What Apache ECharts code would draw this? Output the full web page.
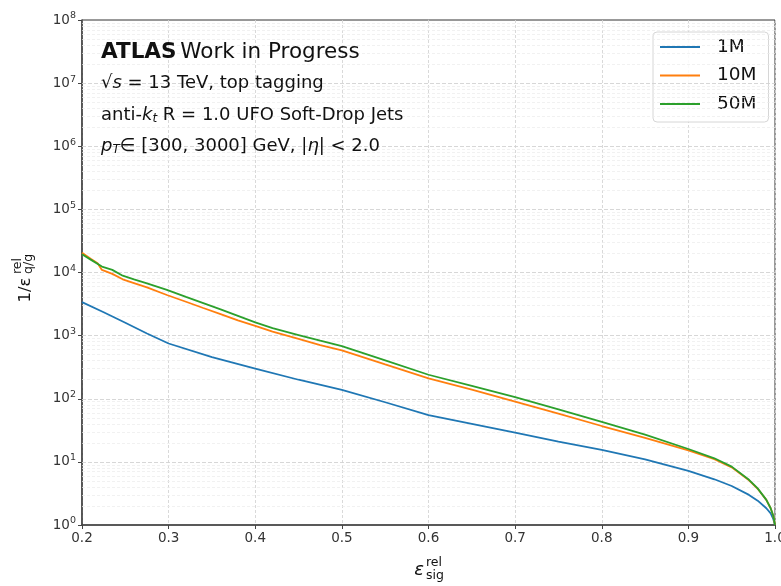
<!DOCTYPE html>
<html>
<head>
<meta charset="utf-8">
<script src="https://cdn.jsdelivr.net/npm/echarts@6/dist/echarts.min.js"></script>
<style>html,body{margin:0;padding:0;background:#fff}#c{width:781px;height:586px}</style>
</head>
<body>
<div id="c"></div>
<script>
// ---- data ----
const seriesNames = ['1M', '10M', '50M'];
const xTicks = [0.2, 0.3, 0.4, 0.5, 0.6, 0.7, 0.8, 0.9, 1.0];
const yDecades = [0, 1, 2, 3, 4, 5, 6, 7, 8];

const x1M = [0.2, 0.225, 0.25, 0.275, 0.3, 0.35, 0.4, 0.45, 0.5, 0.55, 0.6, 0.65, 0.7, 0.75, 0.8, 0.85, 0.9, 0.93, 0.95, 0.97, 0.98, 0.99, 0.995, 0.998, 1.0];
const y1M = [3400, 2350, 1600, 1080, 750, 455, 300, 200, 138, 88, 55, 40, 29, 21, 15.5, 11, 7.2, 5.3, 4.15, 3.0, 2.43, 1.84, 1.53, 1.25, 1.0];

const x10M = [0.2, 0.21, 0.218, 0.223, 0.235, 0.247, 0.26, 0.275, 0.298, 0.32, 0.34, 0.36, 0.38, 0.4, 0.42, 0.45, 0.475, 0.5, 0.55, 0.6, 0.65, 0.7, 0.75, 0.8, 0.85, 0.9, 0.93, 0.95, 0.97, 0.98, 0.99, 0.995, 0.998, 1.0];
const y10M = [20500, 16500, 14000, 11000, 9500, 7800, 6800, 5800, 4400, 3440, 2740, 2190, 1750, 1430, 1160, 890, 710, 585, 350, 211, 140, 90, 58, 37, 24, 15.2, 11.0, 8.2, 5.1, 3.75, 2.5, 1.84, 1.4, 1.0];

const x50M = [0.2, 0.21, 0.223, 0.235, 0.247, 0.26, 0.275, 0.298, 0.32, 0.34, 0.36, 0.38, 0.4, 0.42, 0.45, 0.475, 0.5, 0.55, 0.6, 0.65, 0.7, 0.75, 0.8, 0.85, 0.9, 0.93, 0.95, 0.97, 0.98, 0.99, 0.995, 0.998, 1.0];
const y50M = [19500, 16000, 12400, 11000, 8900, 7800, 6700, 5300, 4110, 3270, 2600, 2060, 1620, 1310, 1020, 830, 680, 405, 240, 160, 106, 68, 43, 27, 16, 11.4, 8.4, 5.2, 3.8, 2.5, 1.84, 1.4, 1.0];

const colors = ['#1f77b4', '#ff7f0e', '#2ca02c'];
const FONT = 'DejaVu Sans';

// ---- build ----
const zip = (xs, ys) => xs.map((x, i) => [x, ys[i]]);
const minorVals = [];
yDecades.slice(0, -1).forEach(d => { for (let m = 2; m <= 9; m++) minorVals.push(m * Math.pow(10, d)); });
const majorVals = yDecades.slice(1, -1).map(d => Math.pow(10, d));

const chart = echarts.init(document.getElementById('c'), null, {renderer: 'canvas'});
const dataSets = [zip(x1M, y1M), zip(x10M, y10M), zip(x50M, y50M)];

const series = dataSets.map((d, i) => ({
  name: seriesNames[i], type: 'line', data: d, showSymbol: false, symbol: 'none',
  lineStyle: {color: colors[i], width: 1.8}, itemStyle: {color: colors[i]}, z: 5 + i, animation: false
}));
series.push({
  type: 'line', data: [], silent: true, animation: false, z: 1,
  markLine: {
    silent: true, symbol: 'none', animation: false, label: {show: false},
    lineStyle: {color: '#ebebeb', type: [3, 2], width: 0.7},
    data: minorVals.map(v => ({yAxis: v}))
  }
});
series.push({
  type: 'line', data: [], silent: true, animation: false, z: 1,
  markLine: {
    silent: true, symbol: 'none', animation: false, label: {show: false},
    lineStyle: {color: '#d2d2d2', type: [4, 2], width: 0.9},
    data: majorVals.map(v => ({yAxis: v}))
  }
});
series.push({
  type: 'line', data: [], silent: true, animation: false, z: 10, clip: false,
  markLine: {
    silent: true, symbol: 'none', animation: false, label: {show: false},
    lineStyle: {color: '#444', type: 'solid', width: 1},
    data: minorVals.map(v => [{coord: [0.2 - 2.3 / 866, v]}, {coord: [0.2, v]}])
  }
});

const option = {
  animation: false,
  backgroundColor: '#fff',
  grid: {left: 82, right: 6, top: 20, bottom: 61, outerBoundsMode: 'none', containLabel: false,
         show: true, borderColor: '#333', borderWidth: 1, backgroundColor: 'transparent'},
  xAxis: {
    type: 'value', min: 0.2, max: 1.0, interval: 0.1,
    axisLine: {lineStyle: {color: '#444', width: 1.6}},
    axisTick: {show: true, length: 4, lineStyle: {color: '#444', width: 1}},
    axisLabel: {color: '#333', fontFamily: FONT, fontSize: 13.5, margin: 6, formatter: v => v.toFixed(1)},
    splitLine: {show: true, lineStyle: {color: '#d5d5d5', type: [3, 2], width: 0.9}}
  },
  yAxis: {
    type: 'log', logBase: 10, min: 1, max: 1e8, interval: 1,
    axisLine: {lineStyle: {color: '#444', width: 1.6}},
    axisTick: {show: true, length: 4, lineStyle: {color: '#444', width: 1}},
    axisLabel: {
      fontFamily: FONT, margin: 6,
      formatter: v => '{b|10}{s|' + Math.round(Math.log10(v)) + '}',
      rich: {
        b: {fontFamily: FONT, fontSize: 13.5, color: '#333'},
        s: {fontFamily: FONT, fontSize: 9.5, color: '#333', padding: [0, 0, 8, 0]}
      }
    },
    splitLine: {show: false}
  },
  legend: {
    orient: 'vertical', left: 653, top: 32,
    data: seriesNames,
    icon: 'rect', itemWidth: 40, itemHeight: 2.2, itemGap: 8.5,
    padding: [5, 12, 8, 7],
    backgroundColor: 'rgba(255,255,255,0.85)', borderColor: '#d6d6d6', borderWidth: 1, borderRadius: 4,
    textStyle: {fontFamily: FONT, fontSize: 18.5, color: '#111', lineHeight: 20, padding: [0, 0, 0, 12]}
  },
  graphic: [
    {type: 'text', left: 101, top: 41, z: 20, style: {
      text: '{b|ATLAS} {n|Work in Progress}', fontFamily: FONT,
      rich: {b: {fontFamily: FONT, fontSize: 21.5, fontWeight: 'bold', fill: '#111'}, n: {fontFamily: FONT, fontSize: 21.5, fill: '#111'}}
    }},
    {type: 'text', left: 101, top: 74, z: 20, style: {
      text: '{n|√}{i|s}{n| = 13 TeV, top tagging}', fontFamily: FONT,
      rich: {n: {fontFamily: FONT, fontSize: 18, fill: '#111'}, i: {fontFamily: FONT, fontSize: 18, fontStyle: 'italic', fill: '#111'}}
    }},
    {type: 'text', left: 101, top: 106, z: 20, style: {
      text: '{n|anti-}{i|k}{sub|t}{n| R = 1.0 UFO Soft-Drop Jets}', fontFamily: FONT,
      rich: {n: {fontFamily: FONT, fontSize: 18, fill: '#111'}, i: {fontFamily: FONT, fontSize: 18, fontStyle: 'italic', fill: '#111'},
             sub: {fontFamily: FONT, fontSize: 12, fontStyle: 'italic', fill: '#111', padding: [7, 0, 0, 0]}}
    }},
    {type: 'text', left: 101, top: 137, z: 20, style: {
      text: '{i|p}{sub|T}{n|∈ [300, 3000] GeV, |}{i|η}{n|| < 2.0}', fontFamily: FONT,
      rich: {n: {fontFamily: FONT, fontSize: 18, fill: '#111'}, i: {fontFamily: FONT, fontSize: 18, fontStyle: 'italic', fill: '#111'},
             sub: {fontFamily: FONT, fontSize: 12, fontStyle: 'italic', fill: '#111', padding: [7, 0, 0, 0]}}
    }},
    // x axis title
    {type: 'text', x: 419, y: 570, z: 20, style: {text: 'ε', fontFamily: FONT, fontSize: 18, fontStyle: 'italic', fill: '#111', align: 'center', verticalAlign: 'middle'}},
    {type: 'text', x: 426, y: 563, z: 20, style: {text: 'rel', fontFamily: FONT, fontSize: 12.5, fill: '#111', align: 'left', verticalAlign: 'middle'}},
    {type: 'text', x: 426, y: 576, z: 20, style: {text: 'sig', fontFamily: FONT, fontSize: 12.5, fill: '#111', align: 'left', verticalAlign: 'middle'}},
    // y axis title (rotated)
    {type: 'text', x: 26, y: 290, rotation: Math.PI / 2, z: 20, style: {text: '1/ε', fontFamily: FONT, fontSize: 16.5, fill: '#111', align: 'center', verticalAlign: 'middle'}},
    {type: 'text', x: 18, y: 274, rotation: Math.PI / 2, z: 20, style: {text: 'rel', fontFamily: FONT, fontSize: 12.5, fill: '#111', align: 'left', verticalAlign: 'middle'}},
    {type: 'text', x: 29, y: 274, rotation: Math.PI / 2, z: 20, style: {text: 'q/g', fontFamily: FONT, fontSize: 12.5, fill: '#111', align: 'left', verticalAlign: 'middle'}}
  ],
  series: series
};
chart.setOption(option);
</script>
</body>
</html>
